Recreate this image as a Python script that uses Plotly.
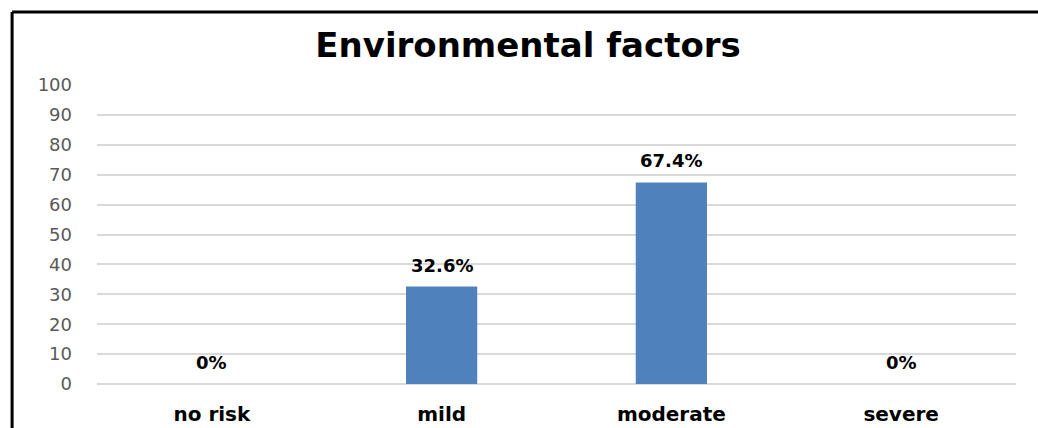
import plotly.graph_objects as go

categories = ["no risk", "mild", "moderate", "severe"]
values = [0, 32.6, 67.4, 0]
labels = ["0%", "32.6%", "67.4%", "0%"]
title_text = "Environmental factors"
y_ticks = list(range(0, 101, 10))

W, H = 1038, 428
ml, mr, mt, mb = 96.5, 21.5, 85, 44
pw = W - ml - mr
ph = H - mt - mb

def px_x(p):
    return (p - ml) / pw

def px_y(p):
    return (H - mb - p) / ph

fig = go.Figure()
fig.add_trace(go.Bar(
    x=categories, y=values,
    marker=dict(color="#4f81bd", line=dict(width=0)),
    width=0.31,
    hoverinfo="skip",
))

for c, v, t in zip(categories, values, labels):
    fig.add_annotation(
        x=c, y=v, text=t, showarrow=False, yanchor="bottom", yshift=9,
        font=dict(family="DejaVu Sans", size=18, color="#000000", weight="bold"),
    )

# outer chart border (left and top visible)
fig.add_shape(type="line", xref="paper", yref="paper",
              x0=px_x(11.5), x1=px_x(1060), y0=px_y(12), y1=px_y(12),
              line=dict(color="#000000", width=3))
fig.add_shape(type="line", xref="paper", yref="paper",
              x0=px_x(11.5), x1=px_x(11.5), y0=px_y(12), y1=px_y(450),
              line=dict(color="#000000", width=3))

fig.update_layout(
    width=W, height=H,
    margin=dict(l=ml, r=mr, t=mt, b=mb, pad=0, autoexpand=False),
    paper_bgcolor="white", plot_bgcolor="white",
    showlegend=False,
    title=dict(text=title_text, x=px_x(528), xref="paper", xanchor="center",
               y=1 - 45 / H, yanchor="middle",
               font=dict(family="DejaVu Sans", size=34, color="#000000", weight="bold")),
    xaxis=dict(showgrid=False, showline=False, zeroline=False, ticks="",
               automargin=False,
               tickfont=dict(family="DejaVu Sans", size=20, color="#000000", weight="bold"),
               ticklabelstandoff=16),
    yaxis=dict(range=[0, 100], tickvals=y_ticks, showgrid=True, gridcolor="#d9d9d9",
               gridwidth=1.5, zeroline=True, zerolinecolor="#d9d9d9", zerolinewidth=1.5,
               showline=False, ticks="", automargin=False,
               tickfont=dict(family="DejaVu Sans", size=18, color="#595959"),
               ticklabelstandoff=24),
)

fig.write_html("out.html")
